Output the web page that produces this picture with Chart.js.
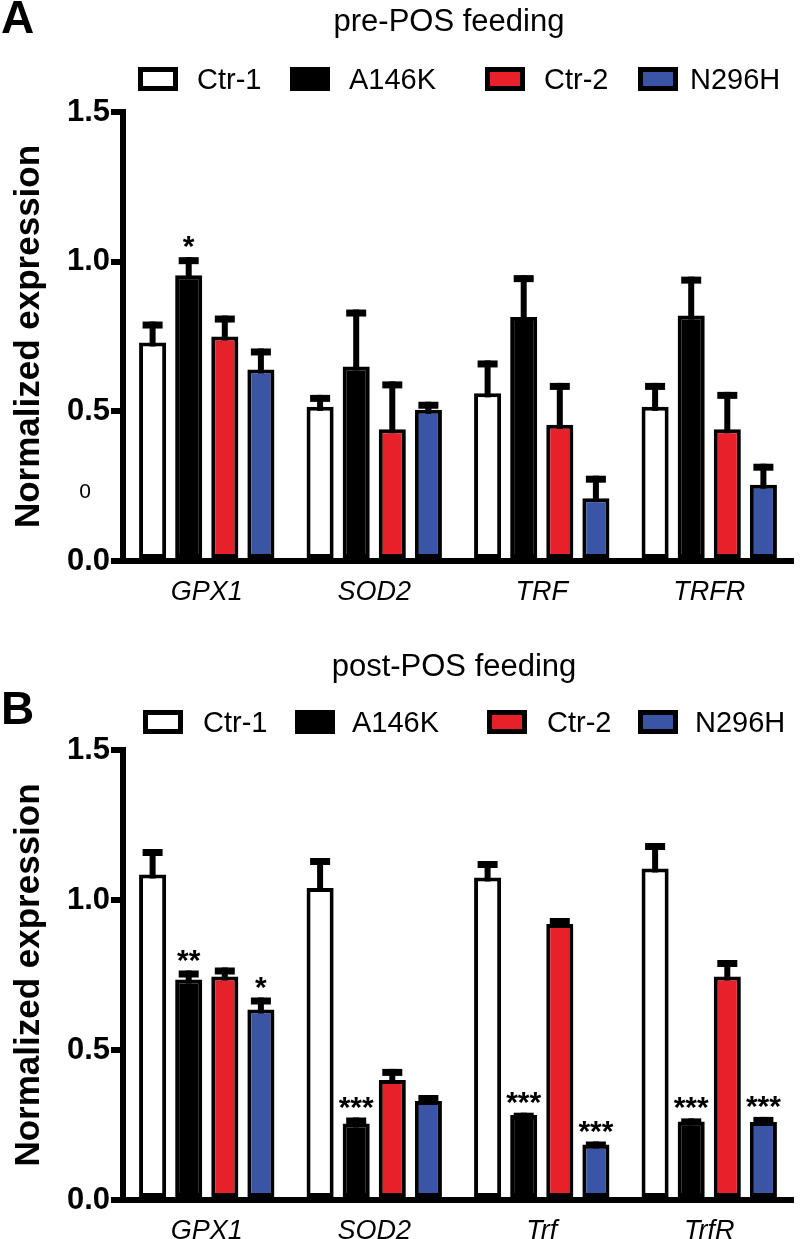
<!DOCTYPE html>
<html>
<head>
<meta charset="utf-8">
<script src="https://cdn.jsdelivr.net/npm/chart.js@4.4.1/dist/chart.umd.min.js"></script>
<style>
  html, body { margin: 0; padding: 0; background: #fff; }
  #wrap { position: relative; width: 800px; height: 1239px; }
  #chartA { position: absolute; left: 0; top: 0; }
  #chartB { position: absolute; left: 0; top: 615px; }
</style>
</head>
<body>
<div id="wrap">
  <canvas id="chartA" width="800" height="615"></canvas>
  <canvas id="chartB" width="800" height="624"></canvas>
</div>
<script>
// ---------- DATA ----------
const seriesLabels = ['Ctr-1', 'A146K', 'Ctr-2', 'N296H'];
const seriesColors = ['#FFFFFF', '#000000', '#E8202A', '#3A55A5'];

const categoriesPre = ['GPX1', 'SOD2', 'TRF', 'TRFR'];
const preCtr1 = [0.73, 0.515, 0.56, 0.515];
const preCtr1Err = [0.07, 0.04, 0.11, 0.08];
const preA146K = [0.955, 0.65, 0.815, 0.82];
const preA146KErr = [0.06, 0.19, 0.14, 0.13];
const preCtr2 = [0.75, 0.44, 0.455, 0.44];
const preCtr2Err = [0.07, 0.16, 0.14, 0.125];
const preN296H = [0.64, 0.505, 0.21, 0.255];
const preN296HErr = [0.07, 0.027, 0.075, 0.07];
const preA146KSig = ['*', '', '', ''];
const preN296HSig = ['', '', '', ''];

const categoriesPost = ['GPX1', 'SOD2', 'Trf', 'TrfR'];
const postCtr1 = [1.085, 1.04, 1.075, 1.105];
const postCtr1Err = [0.085, 0.1, 0.055, 0.085];
const postA146K = [0.735, 0.255, 0.283, 0.262];
const postA146KErr = [0.03, 0.02, 0.008, 0.01];
const postCtr2 = [0.745, 0.4, 0.92, 0.745];
const postCtr2Err = [0.03, 0.037, 0.02, 0.055];
const postN296H = [0.635, 0.33, 0.185, 0.26];
const postN296HErr = [0.04, 0.02, 0.01, 0.017];
const postA146KSig = ['**', '***', '***', '***'];
const postN296HSig = ['*', '', '***', '***'];

const yTicks = [0, 0.5, 1.0, 1.5];
const yTitle = 'Normalized expression';
const titlePre = 'pre-POS feeding';
const titlePost = 'post-POS feeding';

// ---------- STYLE / LAYOUT ----------
const FONT = "'Liberation Sans', Arial, Helvetica, sans-serif";
Chart.defaults.font.family = FONT;
Chart.defaults.color = '#000';

const errorBarPlugin = {
  id: 'errorBars',
  afterDatasetsDraw(chart) {
    const ctx = chart.ctx;
    const ys = chart.scales.y;
    const stemW = 6, capW = 20, capH = 7;
    ctx.save();
    chart.data.datasets.forEach((ds, di) => {
      const meta = chart.getDatasetMeta(di);
      meta.data.forEach((bar, i) => {
        const v = ds.data[i], e = ds.errors[i];
        const yTop = ys.getPixelForValue(v + e);
        const yBar = ys.getPixelForValue(v);
        ctx.fillStyle = '#000';
        ctx.fillRect(bar.x - stemW / 2, yTop, stemW, (yBar - yTop) + 4);
        ctx.fillRect(bar.x - capW / 2, yTop, capW, capH);
        const s = ds.sig ? ds.sig[i] : '';
        if (s) {
          ctx.font = 'bold 30px ' + FONT;
          ctx.textAlign = 'center';
          ctx.textBaseline = 'alphabetic';
          ctx.fillText(s, bar.x, yTop - 1);
        }
      });
    });
    ctx.restore();
  }
};

const decorPlugin = {
  id: 'decor',
  afterDraw(chart, args, o) {
    const ctx = chart.ctx;
    ctx.save();
    ctx.fillStyle = '#000';
    ctx.font = 'bold 46px ' + FONT;
    ctx.textAlign = 'left';
    ctx.textBaseline = 'alphabetic';
    ctx.fillText(o.letter, o.letterX, o.letterY);
    ctx.font = '31px ' + FONT;
    ctx.textAlign = 'center';
    ctx.fillText(o.title, o.titleX, o.titleY);
    chart.data.datasets.forEach((ds, i) => {
      const bx = o.boxX[i], by = o.boxTop, bw = 40, bh = 24, b = 5;
      ctx.fillStyle = '#000';
      ctx.fillRect(bx, by, bw, bh);
      ctx.fillStyle = ds.backgroundColor;
      ctx.fillRect(bx + b, by + b, bw - 2 * b, bh - 2 * b);
      ctx.fillStyle = '#000';
      ctx.font = '29px ' + FONT;
      ctx.textAlign = 'left';
      ctx.fillText(ds.label, o.textX[i], o.textBase);
    });
    if (o.extra) {
      ctx.font = '21px ' + FONT;
      ctx.textAlign = 'center';
      ctx.textBaseline = 'middle';
      ctx.fillText(o.extra.text, o.extra.x, o.extra.y);
    }
    ctx.restore();
  }
};

function makeDatasets(vals, errs, sigs) {
  return seriesLabels.map((lab, i) => ({
    label: lab,
    data: vals[i],
    errors: errs[i],
    sig: sigs[i],
    backgroundColor: seriesColors[i],
    borderColor: '#000',
    borderWidth: 4,
    borderSkipped: false,
    categoryPercentage: 0.862,
    barPercentage: 0.75
  }));
}

function makeOptions(padTop, xHeight, decor) {
  return {
    responsive: false,
    animation: false,
    devicePixelRatio: 1,
    layout: { padding: { top: padTop, left: 0, right: 7, bottom: 0 } },
    plugins: {
      legend: { display: false },
      title: { display: false },
      tooltip: { enabled: false },
      decor: decor
    },
    scales: {
      x: {
        grid: { display: false },
        border: { display: true, width: 6, color: '#000' },
        ticks: { font: { size: 27, style: 'italic' }, color: '#000', padding: 7, maxRotation: 0 },
        afterFit(s) { s.height = xHeight; }
      },
      y: {
        min: 0, max: 1.5,
        afterBuildTicks(s) { s.ticks = yTicks.map(v => ({ value: v })); },
        grid: { display: true, drawOnChartArea: false, drawTicks: true, tickLength: 12, lineWidth: 6, color: '#000' },
        border: { display: true, width: 6, color: '#000' },
        ticks: { font: { size: 31, weight: 'bold' }, color: '#000', padding: 1,
                 callback: v => Number(v).toFixed(1) },
        title: { display: true, text: yTitle, font: { size: 35, weight: 'bold' }, color: '#000', padding: { top: 8, bottom: 0 } },
        afterFit(s) { s.width = 123; }
      }
    }
  };
}

new Chart(document.getElementById('chartA'), {
  type: 'bar',
  data: {
    labels: categoriesPre,
    datasets: makeDatasets(
      [preCtr1, preA146K, preCtr2, preN296H],
      [preCtr1Err, preA146KErr, preCtr2Err, preN296HErr],
      [null, preA146KSig, null, preN296HSig])
  },
  options: makeOptions(112, 54, {
    letter: 'A', letterX: 1, letterY: 33,
    title: titlePre, titleX: 449, titleY: 31,
    boxX: [138, 290, 485, 638], textX: [197, 349, 544, 690], boxTop: 67, textBase: 89,
    extra: { text: '0', x: 85, y: 492 }
  }),
  plugins: [errorBarPlugin, decorPlugin]
});

new Chart(document.getElementById('chartB'), {
  type: 'bar',
  data: {
    labels: categoriesPost,
    datasets: makeDatasets(
      [postCtr1, postA146K, postCtr2, postN296H],
      [postCtr1Err, postA146KErr, postCtr2Err, postN296HErr],
      [null, postA146KSig, null, postN296HSig])
  },
  options: makeOptions(135, 39, {
    letter: 'B', letterX: 1, letterY: 109,
    title: titlePost, titleX: 454, titleY: 61,
    boxX: [143, 295, 487, 638], textX: [203, 352, 547, 695], boxTop: 95, textBase: 117,
    extra: null
  }),
  plugins: [errorBarPlugin, decorPlugin]
});
</script>
</body>
</html>
